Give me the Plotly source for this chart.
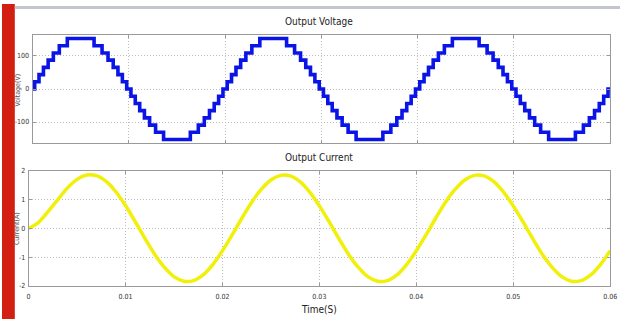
import plotly.graph_objects as go

# ---- data ----
period = 0.02
n_periods = 3
# switching instants within one period (s) and the voltage level (V) held from each instant
step_times = [0.0, 0.00022, 0.00067, 0.00113, 0.00162, 0.00216, 0.00278, 0.00361,
              0.00639, 0.00722, 0.00784, 0.00838, 0.00887, 0.00933, 0.00978,
              0.01022, 0.01067, 0.01113, 0.01162, 0.01216, 0.01278, 0.01361,
              0.01639, 0.01722, 0.01784, 0.01838, 0.01887, 0.01933, 0.01978]
step_volts = [0, 21.9, 43.7, 65.6, 87.4, 109.3, 131.1, 153.0,
              131.1, 109.3, 87.4, 65.6, 43.7, 21.9, 0,
              -21.9, -43.7, -65.6, -87.4, -109.3, -131.1, -153.0,
              -131.1, -109.3, -87.4, -65.6, -43.7, -21.9, 0]

# current sampled every 1 ms from 0 to 0.06 s
current_t = [i * 0.001 for i in range(61)]
current_a = [0.00, 0.20, 0.58, 0.99, 1.40, 1.70, 1.85, 1.83, 1.63, 1.27,
             0.79, 0.23, -0.35, -0.90, -1.35, -1.68, -1.84, -1.82, -1.62, -1.26,
             -0.78, -0.23, 0.35, 0.90, 1.35, 1.68, 1.84, 1.82, 1.62, 1.26,
             0.78, 0.23, -0.35, -0.90, -1.35, -1.68, -1.84, -1.82, -1.62, -1.26,
             -0.78, -0.23, 0.35, 0.90, 1.35, 1.68, 1.84, 1.82, 1.62, 1.26,
             0.78, 0.23, -0.35, -0.90, -1.35, -1.68, -1.84, -1.82, -1.62, -1.26,
             -0.78]

x_ticks = [0, 0.01, 0.02, 0.03, 0.04, 0.05, 0.06]
x_tick_text = ["0", "0.01", "0.02", "0.03", "0.04", "0.05", "0.06"]
v_ticks = [-100, 0, 100]
v_tick_text = ["-100", "0", "100"]
i_ticks = [-2, -1, 0, 1, 2]
i_tick_text = ["-2", "-1", "0", "1", "2"]

# ---- build the staircase over the three periods ----
vx, vy = [], []
for p in range(n_periods):
    for t, v in zip(step_times, step_volts):
        vx.append(t + p * period)
        vy.append(v)
vx.append(n_periods * period)
vy.append(0)

W, H = 627, 323
def px(x):
    return x / W
def py(y):
    return 1 - y / H

FONT = "Liberation Sans Narrow, DejaVu Sans Condensed, Arial Narrow, sans-serif"

fig = go.Figure()
fig.add_trace(go.Scatter(x=vx, y=vy, mode="lines", line=dict(color="#0a14e6", width=3.6, shape="hv"),
                         xaxis="x", yaxis="y", showlegend=False))
fig.add_trace(go.Scatter(x=current_t, y=current_a, mode="lines",
                         line=dict(color="#f0f00a", width=3.5, shape="spline", smoothing=1.0),
                         xaxis="x2", yaxis="y2", showlegend=False))

axis_common = dict(showline=True, linecolor="#9a9a9a", linewidth=1, mirror="allticks",
                   ticks="inside", ticklen=3, tickcolor="#9a9a9a",
                   showgrid=True, gridcolor="#bdbdbd", griddash="1px,2px", gridwidth=1,
                   zeroline=False, tickfont=dict(family=FONT, size=7, color="#333333"))

fig.update_layout(
    width=W, height=H,
    margin=dict(l=0, r=0, t=0, b=0),
    paper_bgcolor="white", plot_bgcolor="white",
    xaxis=dict(domain=[px(31), px(617)], range=[0, 0.06], tickvals=x_ticks,
               showticklabels=False, anchor="y", **axis_common),
    yaxis=dict(domain=[py(143), py(32)], range=[-165, 163], tickvals=v_ticks,
               ticktext=v_tick_text, anchor="x", ticklabelstandoff=1, **axis_common),
    xaxis2=dict(domain=[px(27), px(617)], range=[0, 0.06], tickvals=x_ticks,
                ticktext=x_tick_text, anchor="y2", ticklabelstandoff=4, **axis_common),
    yaxis2=dict(domain=[py(289), py(171)], range=[-2, 2], tickvals=i_ticks,
                ticktext=i_tick_text, anchor="x2", ticklabelstandoff=1, **axis_common),
    shapes=[
        dict(type="rect", xref="paper", yref="paper", x0=0, x1=px(13), y0=0, y1=1,
             fillcolor="#d21f12", line=dict(width=0), layer="above"),
        dict(type="rect", xref="paper", yref="paper", x0=px(13), x1=1, y0=py(5), y1=py(2),
             fillcolor="#c3c7cc", line=dict(width=0)),
    ],
    annotations=[
        dict(text="Output Voltage", x=px(322), y=py(18), xref="paper", yref="paper",
             xanchor="center", yanchor="middle",
             showarrow=False, font=dict(family=FONT, size=10, color="#222222")),
        dict(text="Output Current", x=px(322), y=py(157), xref="paper", yref="paper",
             xanchor="center", yanchor="middle",
             showarrow=False, font=dict(family=FONT, size=10, color="#222222")),
        dict(text="Time(S)", x=px(322), y=py(313), xref="paper", yref="paper",
             xanchor="center", yanchor="middle",
             showarrow=False, font=dict(family=FONT, size=10, color="#222222")),
        dict(text="Voltage(V)", x=px(16), y=py(88), xref="paper", yref="paper", textangle=-90,
             xanchor="center", yanchor="middle",
             showarrow=False, font=dict(family=FONT, size=7, color="#555555")),
        dict(text="Current(A)", x=px(16), y=py(230), xref="paper", yref="paper", textangle=-90,
             xanchor="center", yanchor="middle",
             showarrow=False, font=dict(family=FONT, size=7, color="#555555")),
    ],
)

fig.write_html("out.html")
